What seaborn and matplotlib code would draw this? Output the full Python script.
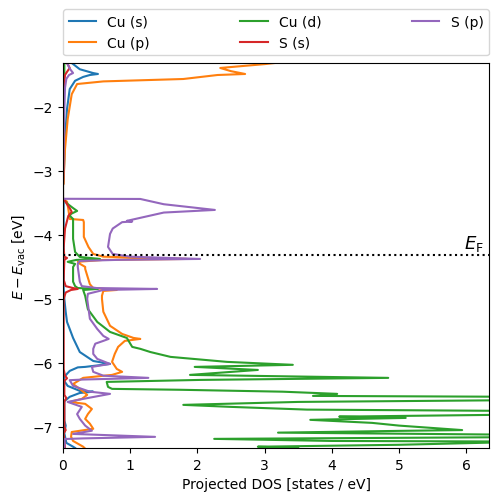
import pandas as pd
import matplotlib
matplotlib.use("Agg")
import matplotlib.pyplot as plt
import seaborn as sns

# Projected DOS: energies (eV vs vacuum) and DOS (states / eV)
orbitals = ["Cu (s)", "Cu (p)", "Cu (d)", "S (s)", "S (p)"]

cu_s_energy = [-1.3125, -1.41, -1.47, -1.484, -1.5, -1.53, -1.59, -1.72, -2.03, -2.5, -2.97, -3.2, -3.22,
               -3.42, -3.5, -3.75, -4.3, -4.84, -5.0, -5.2, -5.36, -5.47, -5.61, -5.83, -5.97, -6.016,
               -6.0625, -6.07, -6.125, -6.17, -6.234, -6.3, -6.36, -6.4375, -6.45, -6.47, -6.53, -6.6,
               -6.9, -6.98, -7.1, -7.25, -7.31, -7.33]
cu_s_dos = [0.13, 0.25, 0.45, 0.52, 0.40, 0.30, 0.18, 0.10, 0.06, 0.03, 0.015, 0.005, 0.0,
            0.0, 0.01, 0.01, 0.01, 0.01, 0.02, 0.04, 0.06, 0.10, 0.15, 0.25, 0.45, 0.70,
            0.33, 0.22, 0.10, 0.06, 0.01, 0.03, 0.07, 0.25, 0.45, 0.25, 0.10, 0.02,
            0.02, 0.04, 0.02, 0.05, 0.15, 0.18]

cu_p_energy = [-1.3125, -1.33, -1.39, -1.44, -1.484, -1.5, -1.5625, -1.6, -1.641, -1.8, -2.19, -2.66, -3.0,
               -3.2, -3.22, -3.42, -3.44, -3.48, -3.6, -3.75, -3.766, -3.8, -4.03, -4.19, -4.297, -4.34,
               -4.375, -4.39, -4.42, -4.45, -4.5, -4.53, -4.77, -4.83, -4.86, -4.875, -4.95, -5.0, -5.2,
               -5.42, -5.547, -5.61, -5.625, -5.656, -5.75, -5.86, -5.984, -6.094, -6.14, -6.1875, -6.234,
               -6.33, -6.406, -6.5, -6.5625, -6.61, -6.64, -6.72, -6.8, -6.875, -6.95, -7.03, -7.08,
               -7.156, -7.22, -7.31, -7.33]
cu_p_dos = [3.15, 3.0, 2.34, 2.5, 2.71, 2.3, 1.79, 0.6, 0.21, 0.13, 0.07, 0.03, 0.015,
            0.01, 0.0, 0.0, 0.0, 0.06, 0.08, 0.10, 0.30, 0.31, 0.31, 0.38, 0.45, 0.6,
            1.85, 0.6, 0.22, 0.25, 0.33, 0.33, 0.40, 0.45, 0.8, 0.6, 0.58, 0.58, 0.60,
            0.70, 0.88, 1.05, 1.15, 0.92, 0.82, 0.77, 0.73, 0.80, 0.88, 0.73, 0.3,
            0.15, 0.25, 0.36, 0.28, 0.10, 0.33, 0.43, 0.37, 0.33, 0.40, 0.45, 0.13,
            0.12, 0.15, 0.30, 0.32]

cu_d_energy = [-1.3125, -1.5, -1.6, -1.65, -3.42, -3.44, -3.516, -3.58, -3.625, -3.67, -3.70, -3.75,
               -4.06, -4.266, -4.344, -4.375, -4.39, -4.42, -4.453, -4.5, -4.73, -4.80, -4.83, -4.844,
               -4.86, -4.953, -5.16, -5.36, -5.516, -5.61, -5.75, -5.78, -5.83, -5.906, -5.984, -6.03,
               -6.0625, -6.11, -6.1875, -6.234, -6.266, -6.297, -6.375, -6.406, -6.42, -6.45, -6.484,
               -6.516, -6.53, -6.5625, -6.58, -6.61, -6.656, -6.6875, -6.73, -6.75, -6.78, -6.81, -6.84,
               -6.86, -6.89, -6.9375, -6.98, -7.05, -7.0625, -7.09, -7.125, -7.156, -7.1875, -7.22,
               -7.23, -7.28, -7.31, -7.33]
cu_d_dos = [0.02, 0.02, 0.01, 0.0, 0.0, 0.0, 0.07, 0.15, 0.21, 0.12, 0.10, 0.15,
            0.15, 0.18, 0.25, 0.55, 0.2, 0.07, 0.18, 0.15, 0.15, 0.18, 0.22, 0.52,
            0.3, 0.33, 0.37, 0.51, 0.70, 0.95, 1.03, 1.15, 1.3, 1.6, 2.44, 3.42,
            1.96, 2.90, 1.89, 4.84, 2.04, 0.65, 0.67, 0.73, 1.74, 3.27, 4.08,
            3.72, 6.8, 7.5, 7.0, 3.5, 1.79, 2.5, 3.63, 6.6, 7.5, 6.6, 4.11,
            5.1, 3.68, 4.6, 5.0, 5.94, 5.0, 3.2, 7.0, 7.5, 2.25, 4.0,
            7.0, 5.0, 2.9, 3.5]

s_s_energy = [-1.3125, -1.35, -1.39, -1.45, -1.5, -1.6, -2.0, -3.0, -3.22, -3.42, -3.45, -3.52, -3.58,
              -3.64, -3.70, -3.9, -4.2, -4.34, -4.36, -4.39, -4.7, -4.8, -4.83, -4.844, -4.86, -4.9,
              -5.0, -6.1, -6.2, -6.24, -6.28, -6.5, -6.55, -6.6, -7.0, -7.05, -7.1, -7.33]
s_s_dos = [0.06, 0.08, 0.10, 0.06, 0.03, 0.02, 0.01, 0.005, 0.0, 0.0, 0.02, 0.06, 0.10,
           0.13, 0.08, 0.03, 0.01, 0.02, 0.06, 0.02, 0.01, 0.04, 0.15, 0.22, 0.12, 0.04,
           0.01, 0.01, 0.03, 0.06, 0.02, 0.02, 0.05, 0.02, 0.02, 0.04, 0.01, 0.03]

s_p_energy = [-1.3125, -1.4, -1.469, -1.5, -1.56, -1.7, -2.2, -3.0, -3.22, -3.42, -3.435, -3.4375, -3.52,
              -3.609, -3.65, -3.78, -3.79, -3.80, -3.9, -3.984, -4.1875, -4.297, -4.34, -4.375, -4.39,
              -4.406, -4.45, -4.5, -4.73, -4.80, -4.83, -4.844, -4.86, -4.92, -5.0, -5.31, -5.47,
              -5.578, -5.625, -5.656, -5.70, -5.78, -5.86, -5.9375, -6.016, -6.0625, -6.14, -6.2,
              -6.234, -6.26, -6.27, -6.36, -6.45, -6.484, -6.5625, -6.61, -6.6875, -6.80, -6.875,
              -6.98, -7.06, -7.11, -7.156, -7.18, -7.19, -7.33]
s_p_dos = [0.06, 0.10, 0.15, 0.09, 0.05, 0.03, 0.015, 0.005, 0.0, 0.0, 0.0, 1.15, 1.5,
           2.26, 1.5, 0.95, 1.03, 0.88, 0.74, 0.70, 0.67, 0.74, 1.0, 2.04, 0.8,
           0.25, 0.22, 0.22, 0.25, 0.28, 0.5, 1.40, 0.6, 0.37, 0.36, 0.40, 0.51,
           0.60, 0.68, 0.60, 0.48, 0.45, 0.45, 0.51, 0.70, 0.43, 0.45, 0.6,
           1.27, 0.3, 0.10, 0.15, 0.4, 0.70, 0.30, 0.07, 0.28, 0.21, 0.25,
           0.33, 0.43, 0.15, 1.37, 0.3, 0.02, 0.02]

fermi_level = -4.31

frames = []
for name, e, d in zip(orbitals,
                      [cu_s_energy, cu_p_energy, cu_d_energy, s_s_energy, s_p_energy],
                      [cu_s_dos, cu_p_dos, cu_d_dos, s_s_dos, s_p_dos]):
    frames.append(pd.DataFrame({"energy": e, "dos": d, "orbital": name}))
data = pd.concat(frames, ignore_index=True)

fig = plt.figure(figsize=(4.98, 5.02), dpi=100)
ax = fig.add_axes([0.1265, 0.1056, 0.8555, 0.7669])

sns.lineplot(data=data, x="dos", y="energy", hue="orbital", hue_order=orbitals,
             palette="tab10", sort=False, estimator=None, orient="y", ax=ax)

ax.axhline(fermi_level, color="k", linestyle=":", linewidth=1.5)
ax.text(6.27, fermi_level + 0.03, r"$E_\mathrm{F}$", ha="right", va="bottom", fontsize=13)

ax.set_xlim(0, 6.34)
ax.set_ylim(-7.33, -1.3125)
ax.set_xlabel("Projected DOS [states / eV]")
ax.set_ylabel(r"$E - E_\mathrm{vac}$ [eV]")

sns.move_legend(ax, "lower left", bbox_to_anchor=(0, 1.02, 1, 0.2), mode="expand",
                ncol=3, title=None, borderaxespad=0, frameon=True)

fig.savefig("out.png", dpi=100)
